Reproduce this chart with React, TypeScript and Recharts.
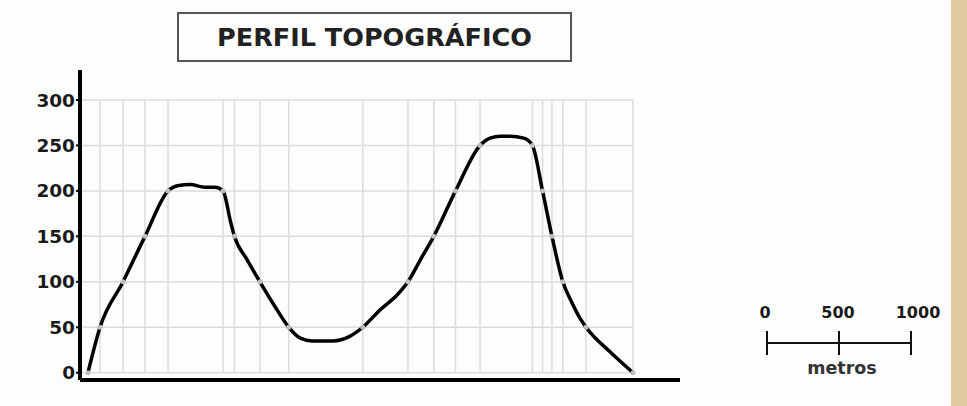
import { ComposedChart, Line, Scatter, XAxis, YAxis, ReferenceLine } from 'recharts'

// horizontal distance along the profile (m) and elevation (m)
const distance = [55, 138, 297, 448, 607, 680, 760, 860, 931, 986, 1040, 1065, 1150, 1241, 1340, 1440, 1520, 1600, 1745, 1860, 1950, 2069, 2190, 2262, 2350, 2440, 2590, 2759, 2828, 2900, 2966, 3060, 3120, 3190, 3255, 3330, 3393, 3448, 3490, 3655, 3814]
const elevation = [0, 50, 100, 150, 200, 206, 207, 204, 204, 200, 165, 150, 125, 100, 74, 50, 38, 35, 35, 40, 50, 69, 86, 100, 125, 150, 200, 250, 258, 260, 260, 258, 250, 200, 150, 100, 77, 60, 50, 23, 0]

const yTicks = [0, 50, 100, 150, 200, 250, 300]
const scaleLabels = ['0', '500', '1000']
const title = 'PERFIL TOPOGRÁFICO'
const unit = 'metros'

const profile = distance.map((d, i) => ({ d, v: elevation[i] }))
const contourPts = profile.filter((p) => p.v % 50 === 0)
const endX = distance[distance.length - 1]
const gridX = contourPts.filter((p) => p.v > 0).map((p) => p.d).concat(endX)

const FONT = '"DejaVu Sans", Verdana, sans-serif'

export default function App() {
  return (
    <div style={{ position: 'absolute', left: 0, top: 0, width: 967, height: 406, background: '#fdfdfd', overflow: 'hidden' }}>
      <ComposedChart width={967} height={406} data={profile} margin={{ top: 70, right: 287, bottom: 20, left: 18 }}>
        {yTicks.map((t) => (
          <ReferenceLine key={'h' + t} segment={[{ x: 0, y: t }, { x: endX, y: t }]} stroke="#dcdcdc" strokeWidth={1.5} />
        ))}
        {gridX.map((x) => (
          <ReferenceLine key={'v' + x} segment={[{ x, y: 0 }, { x, y: 300 }]} stroke="#dcdcdc" strokeWidth={1.5} />
        ))}
        <XAxis
          type="number"
          dataKey="d"
          domain={[0, 4138]}
          allowDataOverflow
          height={6}
          tick={false}
          tickLine={false}
          axisLine={{ stroke: '#000', strokeWidth: 4 }}
        />
        <YAxis
          type="number"
          domain={[-8, 333]}
          allowDataOverflow
          ticks={yTicks}
          width={62}
          tickSize={4}
          tickMargin={1}
          axisLine={{ stroke: '#000', strokeWidth: 4 }}
          tickLine={{ stroke: '#000', strokeWidth: 2 }}
          tick={{ fill: '#1a1a1a', fontSize: 18.5, fontWeight: 700, fontFamily: FONT }}
        />
        <Line
          type="monotone"
          dataKey="v"
          stroke="#000"
          strokeWidth={3.5}
          dot={false}
          activeDot={false}
          isAnimationActive={false}
        />
        <Scatter
          data={contourPts}
          dataKey="v"
          isAnimationActive={false}
          shape={(p: any) => <circle cx={p.cx} cy={p.cy} r={2.5} fill="#bdbdbd" />}
        />
      </ComposedChart>

      <div
        style={{
          position: 'absolute',
          left: 177,
          top: 12,
          width: 395,
          height: 50,
          boxSizing: 'border-box',
          border: '2px solid #555',
          display: 'flex',
          alignItems: 'center',
          justifyContent: 'center',
          fontFamily: FONT,
          fontWeight: 700,
          fontSize: 25.5,
          color: '#222',
        }}
      >
        {title}
      </div>

      <svg style={{ position: 'absolute', left: 740, top: 290 }} width={210} height={95}>
        {scaleLabels.map((s, i) => (
          <text
            key={s}
            x={[25, 98, 178][i]}
            y={28}
            textAnchor="middle"
            fontFamily={FONT}
            fontWeight={700}
            fontSize={16}
            fill="#1a1a1a"
          >
            {s}
          </text>
        ))}
        <line x1={27} y1={53} x2={171} y2={53} stroke="#111" strokeWidth={2} />
        {scaleLabels.map((s, i) => (
          <line key={'t' + s} x1={27 + i * 72} y1={41} x2={27 + i * 72} y2={65} stroke="#111" strokeWidth={2} />
        ))}
        <text x={102} y={84} textAnchor="middle" fontFamily={FONT} fontWeight={700} fontSize={17.5} fill="#333">
          {unit}
        </text>
      </svg>

      <div style={{ position: 'absolute', left: 951, top: 0, width: 16, height: 406, background: '#e2cb9e' }} />
    </div>
  )
}
